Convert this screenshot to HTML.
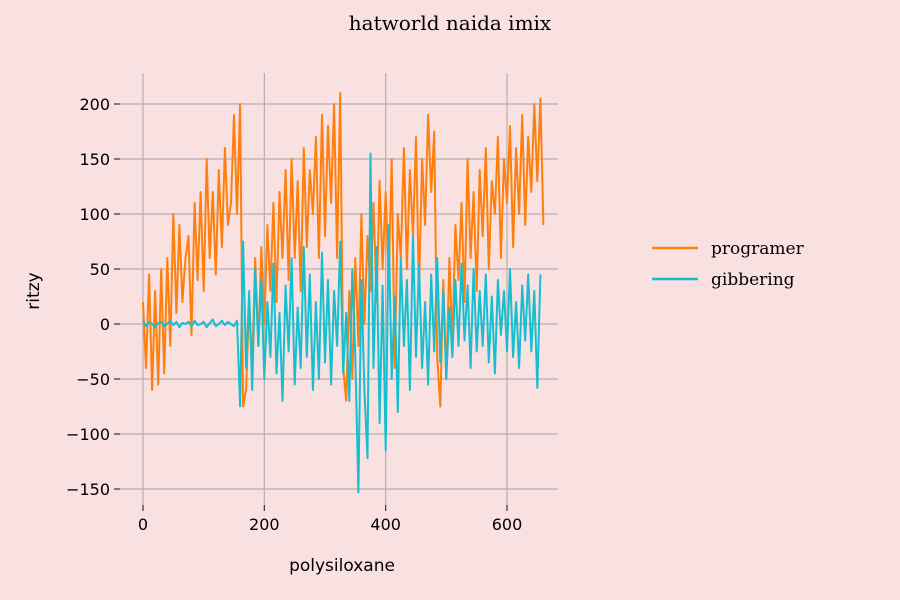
<!DOCTYPE html>
<html><head><meta charset="utf-8"><style>
body{margin:0;background:#f9e1e1;}
svg{display:block;}
</style></head><body>
<svg id="chart" width="900" height="600" xmlns="http://www.w3.org/2000/svg">
<rect width="900" height="600" fill="#f9e1e1"/>
<text x="450" y="30" text-anchor="middle" font-family="DejaVu Serif, serif" font-size="20" fill="#000">hatworld naida imix</text>
<g id="grid"></g><g id="series"></g><g id="axes"></g>
<text x="342" y="571" text-anchor="middle" font-family="DejaVu Sans, sans-serif" font-size="17">polysiloxane</text>
<text transform="translate(39,291) rotate(-90)" text-anchor="middle" font-family="DejaVu Sans, sans-serif" font-size="17">ritzy</text>
<g font-family="DejaVu Serif, serif" font-size="17">
<line x1="652" y1="248" x2="698" y2="248" stroke="#ff7f0e" stroke-width="2.5"/>
<text x="711" y="254">programer</text>
<line x1="652" y1="279" x2="698" y2="279" stroke="#17becf" stroke-width="2.5"/>
<text x="711" y="285">gibbering</text>
</g>
</svg>
<script>
const xTicks=[0,200,400,600];
const yTicks=[-150,-100,-50,0,50,100,150,200];
const step=5;
const programer=[20,-40,45,-60,30,-55,50,-45,60,-20,
100,10,90,20,60,80,-10,110,40,120,
30,150,60,120,45,140,70,160,90,110,
190,100,200,-75,-60,20,-40,60,-20,70,
0,90,30,110,20,120,60,140,40,150,
60,130,30,160,70,140,100,170,60,190,
80,180,110,200,60,210,-40,-70,30,-50,
60,-20,100,0,80,30,110,20,130,50,
120,40,150,-40,100,60,160,50,140,80,
170,30,150,90,190,120,175,-30,-75,40,
-50,60,-20,90,40,110,20,150,60,120,
30,140,80,160,50,130,100,170,60,150,
110,180,70,160,100,190,90,170,120,200,
130,205,90];
const gibbering=[3,-2,2,0,-3,1,2,-2,0,3,-1,2,-3,1,0,2,-2,3,-1,0,2,-3,1,4,-2,0,3,-1,2,0,-2,3,
-75,75,-40,30,-60,50,-20,40,-50,20,
-30,55,-45,10,-70,35,-25,60,-55,15,
-40,70,-30,45,-60,20,-50,65,-35,40,
-55,30,-20,75,-45,10,-70,50,-30,-153,
40,-60,-122,155,-40,70,-90,35,-115,90,
-50,25,-80,60,-20,40,-60,80,-30,55,
-40,20,-55,45,-25,60,-35,30,-50,15,
-30,40,-20,55,-15,35,-40,50,-25,30,
-20,45,-35,25,-45,40,-10,30,-25,50,
-30,20,-40,35,-15,45,-25,30,-58,45];
const L=120,R=558,T=73,B=505;
function sx(v){return 143+v*(507-143)/600;}
function sy(v){return 324-v*1.1;}
const NS="http://www.w3.org/2000/svg";
const grid=document.getElementById('grid'),axes=document.getElementById('axes'),ser=document.getElementById('series');
function mk(tag,attrs,parent){const e=document.createElementNS(NS,tag);for(const k in attrs)e.setAttribute(k,attrs[k]);parent.appendChild(e);return e;}
xTicks.forEach(t=>{
 const g=mk('line',{x1:sx(t),x2:sx(t),y1:T,y2:B,stroke:'#b0b0b0','stroke-width':1.2},grid);
 
 
 const k=mk('line',{x1:sx(t),x2:sx(t),y1:B,y2:B+6,stroke:'#333','stroke-width':1.2},axes);
 
 
 const tx=mk('text',{x:sx(t),y:B+25,'text-anchor':'middle','font-family':'DejaVu Sans, sans-serif','font-size':16},axes);
 tx.textContent=t;
 
 
});
yTicks.forEach(t=>{
 const g=mk('line',{x1:L,x2:R,y1:sy(t),y2:sy(t),stroke:'#b0b0b0','stroke-width':1.2},grid);
 
 
 const k=mk('line',{x1:L-6,x2:L,y1:sy(t),y2:sy(t),stroke:'#333','stroke-width':1.2},axes);
 
 
 const tx=mk('text',{x:L-10,y:sy(t)+6,'text-anchor':'end','font-family':'DejaVu Sans, sans-serif','font-size':16},axes);
 tx.textContent=(t<0?'\u2212'+(-t):t);
 
 
});
function line(arr,color,name){
 const d=arr.map((v,i)=>(i?'L':'M')+sx(i*step).toFixed(1)+','+sy(v).toFixed(1)).join('');
 const p=mk('path',{d:d,fill:'none',stroke:color,'stroke-width':2,'stroke-linejoin':'round'},ser);
 
 
}
line(programer,'#ff7f0e','programer-line');
line(gibbering,'#17becf','gibbering-line');
</script>
</body></html>
